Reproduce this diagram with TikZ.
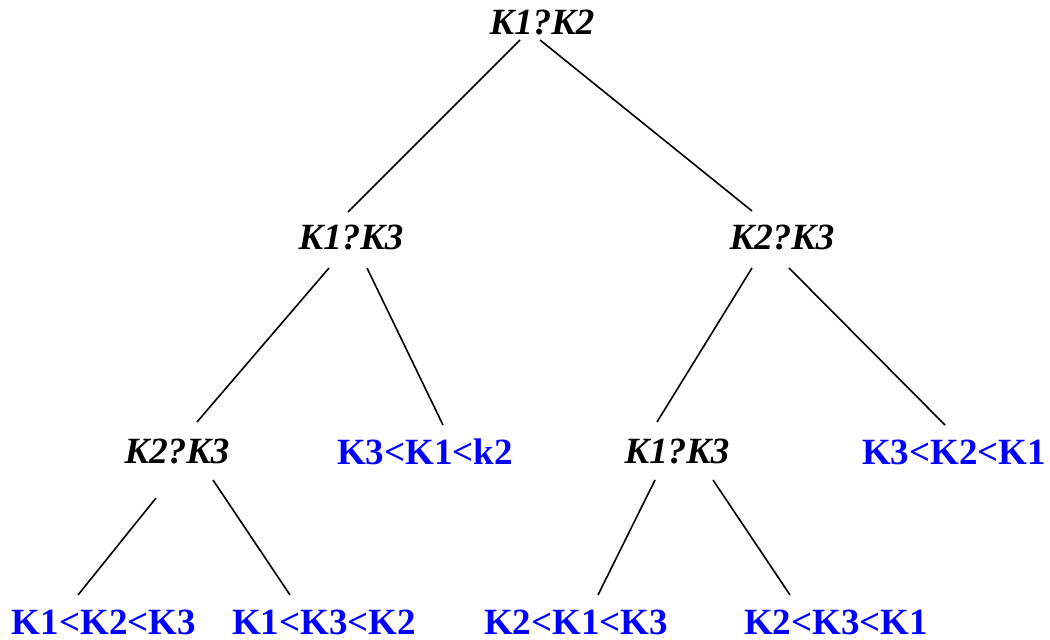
\documentclass[tikz,border=0pt]{standalone}
\usepackage{fontspec}
\setmainfont{Liberation Serif}
\usepackage{tikz}

\begin{document}
\begin{tikzpicture}
   [x=0.5pt,y=-0.5pt,line width=0.8pt,
    cmp/.style={inner sep=0pt,anchor=base,font=\fontsize{18.5}{22}\selectfont\bfseries\itshape},
    perm/.style={inner sep=0pt,anchor=base,text=blue,font=\fontsize{18.5}{22}\selectfont\bfseries}]
   \useasboundingbox (0,0) rectangle (1050,640);

   \node[cmp] (k12) at (542,35) {K1?K2};
   \node[cmp] (k13a) at (351,250) {K1?K3};
   \node[cmp] (k23a) at (782,250) {K2?K3};
   \node[cmp] (k23b) at (177,464) {K2?K3};
   \node[perm] (p312) at (425,465) {K3<K1<k2};
   \node[cmp] (k13b) at (677,464) {K1?K3};
   \node[perm] (p321) at (954,465) {K3<K2<K1};
   \node[perm] (p123) at (104,635) {K1<K2<K3};
   \node[perm] (p132) at (324,635) {K1<K3<K2};
   \node[perm] (p213) at (576,635) {K2<K1<K3};
   \node[perm] (p231) at (836,635) {K2<K3<K1};

   \draw ([shift={(-22,5)}]k12.base) -- ([shift={(-3,-38)}]k13a.base);
   \draw ([shift={(-2,5)}]k12.base) -- ([shift={(-30,-39)}]k23a.base);

   \draw ([shift={(-22,18)}]k13a.base) -- ([shift={(20,-42)}]k23b.base);
   \draw ([shift={(16,18)}]k13a.base) -- ([shift={(18,-40)}]p312.base);
   \draw ([shift={(-30,18)}]k23a.base) -- ([shift={(-20,-42)}]k13b.base);
   \draw ([shift={(7,18)}]k23a.base) -- ([shift={(-9,-40)}]p321.base);

   \draw ([shift={(-21,34)}]k23b.base) -- ([shift={(-26,-40)}]p123.base);
   \draw ([shift={(36,16)}]k23b.base) -- ([shift={(-34,-40)}]p132.base);
   \draw ([shift={(-22,16)}]k13b.base) -- ([shift={(22,-40)}]p213.base);
   \draw ([shift={(36,16)}]k13b.base) -- ([shift={(-46,-40)}]p231.base);
\end{tikzpicture}
\end{document}
